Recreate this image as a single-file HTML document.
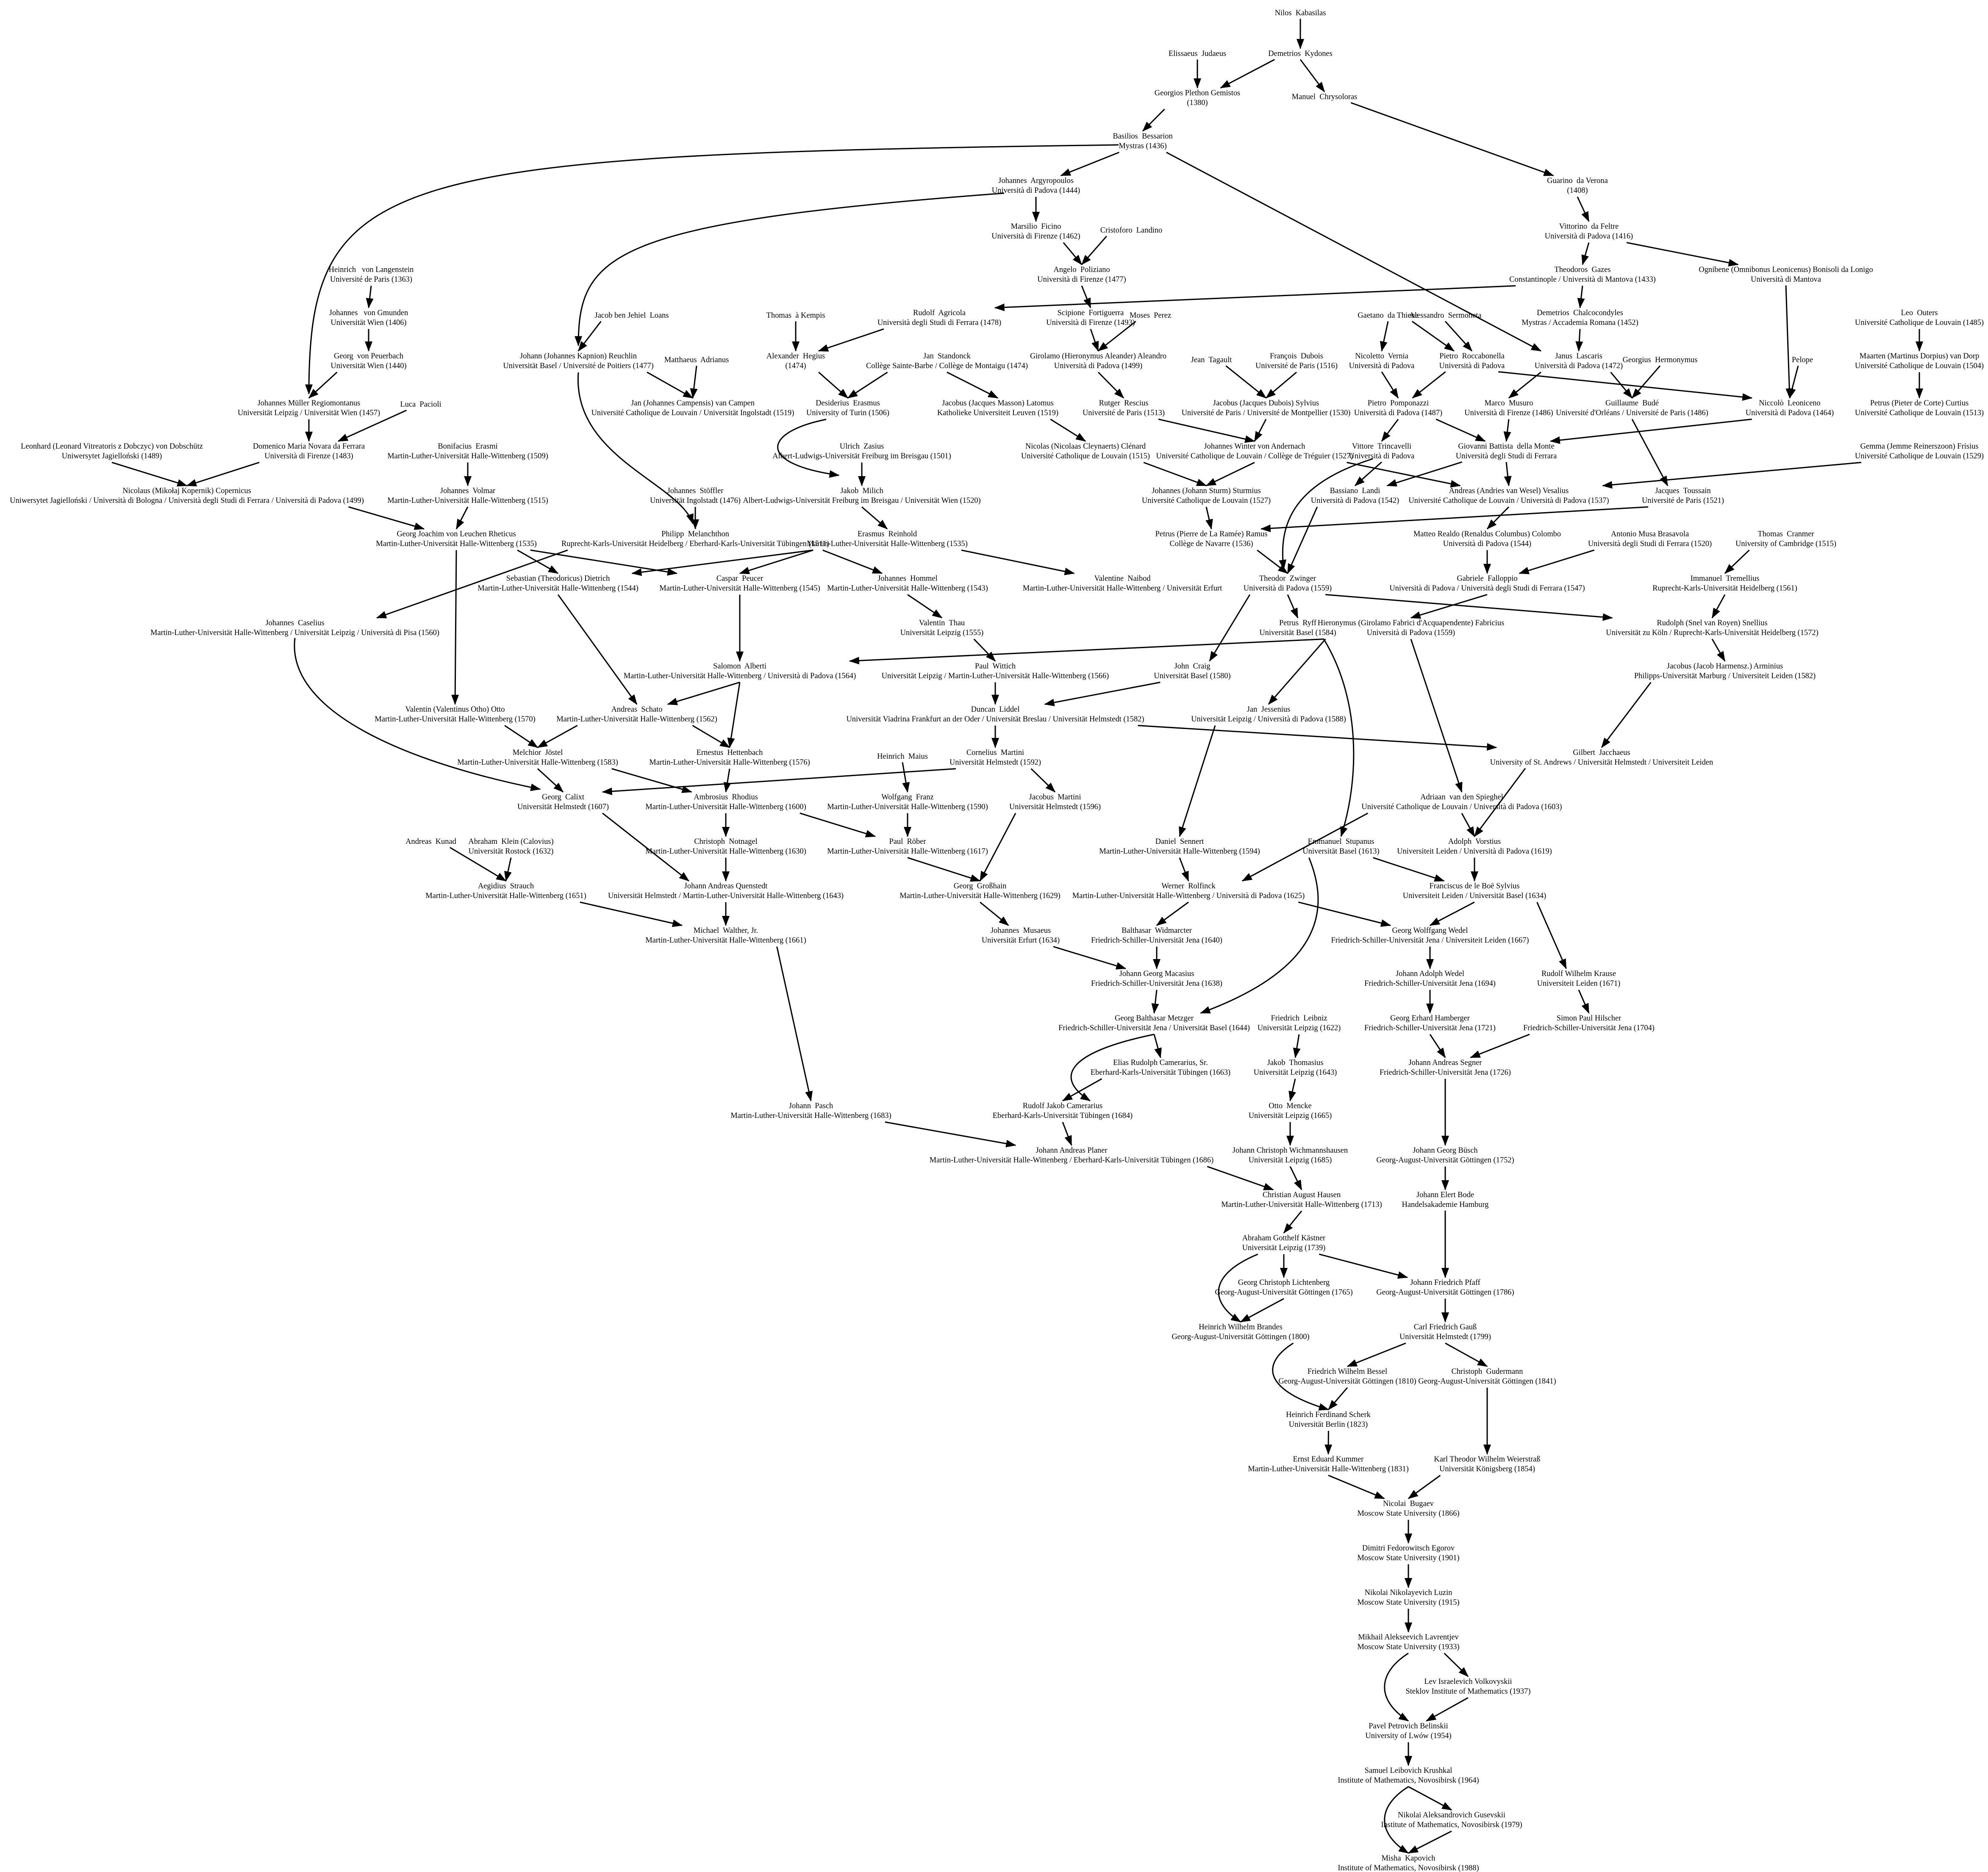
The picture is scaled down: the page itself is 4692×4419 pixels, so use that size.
<!DOCTYPE html>
<html><head><meta charset="utf-8"><style>
html,body{margin:0;padding:0;background:#fff}
svg{display:block}
text{font-family:"Liberation Serif",serif;font-size:6.15px;fill:#000;text-anchor:middle;white-space:pre}
</style></head><body>
<svg id="s" width="4692" height="4419" viewBox="0 0 1564 1473" xmlns="http://www.w3.org/2000/svg" xml:space="preserve">
<defs><marker id="a" markerWidth="8" markerHeight="6" refX="7.5" refY="3" orient="auto" markerUnits="userSpaceOnUse"><path d="M0,0 L8,3 L0,6 z" fill="#000"/></marker></defs>
<g id="E" fill="none" stroke="#000" stroke-width="1"></g>
<g id="T">
<text id="n1" x="1023" y="12">Nilos  Kabasilas</text>
<text id="n2" x="942" y="44">Elissaeus  Judaeus</text>
<text id="n3" x="1023" y="44">Demetrios  Kydones</text>
<text id="n4" x="942" y="75">Georgios Plethon Gemistos<tspan x="942" dy="7.7">(1380)</tspan></text>
<text id="n5" x="1042" y="78">Manuel  Chrysoloras</text>
<text id="n6" x="899" y="109">Basilios  Bessarion<tspan x="899" dy="7.7">Mystras (1436)</tspan></text>
<text id="n7" x="815" y="144">Johannes  Argyropoulos<tspan x="815" dy="7.7">Università di Padova (1444)</tspan></text>
<text id="n8" x="1241" y="144">Guarino  da Verona<tspan x="1241" dy="7.7">(1408)</tspan></text>
<text id="n9" x="815" y="180">Marsilio  Ficino<tspan x="815" dy="7.7">Università di Firenze (1462)</tspan></text>
<text id="n10" x="890" y="183">Cristoforo  Landino</text>
<text id="n11" x="1250" y="180">Vittorino  da Feltre<tspan x="1250" dy="7.7">Università di Padova (1416)</tspan></text>
<text id="n12" x="851" y="214">Angelo  Poliziano<tspan x="851" dy="7.7">Università di Firenze (1477)</tspan></text>
<text id="n13" x="292" y="214">Heinrich   von Langenstein<tspan x="292" dy="7.7">Université de Paris (1363)</tspan></text>
<text id="n14" x="1245" y="214">Theodoros  Gazes<tspan x="1245" dy="7.7">Constantinople / Università di Mantova (1433)</tspan></text>
<text id="n15" x="1405" y="214">Ognibene (Omnibonus Leonicenus) Bonisoli da Lonigo<tspan x="1405" dy="7.7">Università di Mantova</tspan></text>
<text id="n16" x="290" y="248">Johannes   von Gmunden<tspan x="290" dy="7.7">Universität Wien (1406)</tspan></text>
<text id="n17" x="497" y="250">Jacob ben Jehiel  Loans</text>
<text id="n18" x="626" y="250">Thomas  à Kempis</text>
<text id="n19" x="739" y="248">Rudolf  Agricola<tspan x="739" dy="7.7">Università degli Studi di Ferrara (1478)</tspan></text>
<text id="n20" x="858" y="248">Scipione  Fortiguerra<tspan x="858" dy="7.7">Università di Firenze (1493)</tspan></text>
<text id="n21" x="905" y="250">Moses  Perez</text>
<text id="n22" x="1092" y="250">Gaetano  da Thiene</text>
<text id="n23" x="1137" y="250">Alessandro  Sermoneta</text>
<text id="n24" x="1243" y="248">Demetrios  Chalcocondyles<tspan x="1243" dy="7.7">Mystras / Accademia Romana (1452)</tspan></text>
<text id="n25" x="1510" y="248">Leo  Outers<tspan x="1510" dy="7.7">Université Catholique de Louvain (1485)</tspan></text>
<text id="n26" x="290" y="282">Georg  von Peuerbach<tspan x="290" dy="7.7">Universität Wien (1440)</tspan></text>
<text id="n27" x="455" y="282">Johann (Johannes Kapnion) Reuchlin<tspan x="455" dy="7.7">Universität Basel / Université de Poitiers (1477)</tspan></text>
<text id="n28" x="548" y="285">Matthaeus  Adrianus</text>
<text id="n29" x="626" y="282">Alexander  Hegius<tspan x="626" dy="7.7">(1474)</tspan></text>
<text id="n30" x="745" y="282">Jan  Standonck<tspan x="745" dy="7.7">Collège Sainte-Barbe / Collège de Montaigu (1474)</tspan></text>
<text id="n31" x="864" y="282">Girolamo (Hieronymus Aleander) Aleandro<tspan x="864" dy="7.7">Università di Padova (1499)</tspan></text>
<text id="n32" x="953" y="285">Jean  Tagault</text>
<text id="n33" x="1020" y="282">François  Dubois<tspan x="1020" dy="7.7">Université de Paris (1516)</tspan></text>
<text id="n34" x="1087" y="282">Nicoletto  Vernia<tspan x="1087" dy="7.7">Università di Padova</tspan></text>
<text id="n35" x="1158" y="282">Pietro  Roccabonella<tspan x="1158" dy="7.7">Università di Padova</tspan></text>
<text id="n36" x="1242" y="282">Janus  Lascaris<tspan x="1242" dy="7.7">Università di Padova (1472)</tspan></text>
<text id="n37" x="1306" y="285">Georgius  Hermonymus</text>
<text id="n38" x="1418" y="285">Pelope</text>
<text id="n39" x="1510" y="282">Maarten (Martinus Dorpius) van Dorp<tspan x="1510" dy="7.7">Université Catholique de Louvain (1504)</tspan></text>
<text id="n40" x="243" y="319">Johannes Müller Regiomontanus<tspan x="243" dy="7.7">Universität Leipzig / Universität Wien (1457)</tspan></text>
<text id="n41" x="331" y="320">Luca  Pacioli</text>
<text id="n42" x="545" y="319">Jan (Johannes Campensis) van Campen<tspan x="545" dy="7.7">Université Catholique de Louvain / Universität Ingolstadt (1519)</tspan></text>
<text id="n43" x="667" y="319">Desiderius  Erasmus<tspan x="667" dy="7.7">University of Turin (1506)</tspan></text>
<text id="n44" x="785" y="319">Jacobus (Jacques Masson) Latomus<tspan x="785" dy="7.7">Katholieke Universiteit Leuven (1519)</tspan></text>
<text id="n45" x="884" y="319">Rutger  Rescius<tspan x="884" dy="7.7">Université de Paris (1513)</tspan></text>
<text id="n46" x="996" y="319">Jacobus (Jacques Dubois) Sylvius<tspan x="996" dy="7.7">Université de Paris / Université de Montpellier (1530)</tspan></text>
<text id="n47" x="1100" y="319">Pietro  Pomponazzi<tspan x="1100" dy="7.7">Università di Padova (1487)</tspan></text>
<text id="n48" x="1187" y="319">Marco  Musuro<tspan x="1187" dy="7.7">Università di Firenze (1486)</tspan></text>
<text id="n49" x="1284" y="319">Guillaume  Budé<tspan x="1284" dy="7.7">Université d'Orléans / Université de Paris (1486)</tspan></text>
<text id="n50" x="1408" y="319">Niccolò  Leoniceno<tspan x="1408" dy="7.7">Università di Padova (1464)</tspan></text>
<text id="n51" x="1510" y="319">Petrus (Pieter de Corte) Curtius<tspan x="1510" dy="7.7">Université Catholique de Louvain (1513)</tspan></text>
<text id="n52" x="88" y="353">Leonhard (Leonard Vitreatoris z Dobczyc) von Dobschütz<tspan x="88" dy="7.7">Uniwersytet Jagielloński (1489)</tspan></text>
<text id="n53" x="243" y="353">Domenico Maria Novara da Ferrara<tspan x="243" dy="7.7">Università di Firenze (1483)</tspan></text>
<text id="n54" x="368" y="353">Bonifacius  Erasmi<tspan x="368" dy="7.7">Martin-Luther-Universität Halle-Wittenberg (1509)</tspan></text>
<text id="n55" x="854" y="353">Nicolas (Nicolaas Cleynaerts) Clénard<tspan x="854" dy="7.7">Université Catholique de Louvain (1515)</tspan></text>
<text id="n56" x="678" y="353">Ulrich  Zasius<tspan x="678" dy="7.7">Albert-Ludwigs-Universität Freiburg im Breisgau (1501)</tspan></text>
<text id="n57" x="987" y="353">Johannes Winter von Andernach<tspan x="987" dy="7.7">Université Catholique de Louvain / Collège de Tréguier (1527)</tspan></text>
<text id="n58" x="1087" y="353">Vittore  Trincavelli<tspan x="1087" dy="7.7">Università di Padova</tspan></text>
<text id="n59" x="1185" y="353">Giovanni Battista  della Monte<tspan x="1185" dy="7.7">Università degli Studi di Ferrara</tspan></text>
<text id="n60" x="1510" y="353">Gemma (Jemme Reinerszoon) Frisius<tspan x="1510" dy="7.7">Université Catholique de Louvain (1529)</tspan></text>
<text id="n61" x="147" y="388">Nicolaus (Mikołaj Kopernik) Copernicus<tspan x="147" dy="7.7">Uniwersytet Jagielloński / Università di Bologna / Università degli Studi di Ferrara / Università di Padova (1499)</tspan></text>
<text id="n62" x="368" y="388">Johannes  Volmar<tspan x="368" dy="7.7">Martin-Luther-Universität Halle-Wittenberg (1515)</tspan></text>
<text id="n63" x="547" y="388">Johannes  Stöffler<tspan x="547" dy="7.7">Universität Ingolstadt (1476)</tspan></text>
<text id="n64" x="678" y="388">Jakob  Milich<tspan x="678" dy="7.7">Albert-Ludwigs-Universität Freiburg im Breisgau / Universität Wien (1520)</tspan></text>
<text id="n65" x="949" y="388">Johannes (Johann Sturm) Sturmius<tspan x="949" dy="7.7">Université Catholique de Louvain (1527)</tspan></text>
<text id="n66" x="1066" y="388">Bassiano  Landi<tspan x="1066" dy="7.7">Università di Padova (1542)</tspan></text>
<text id="n67" x="1187" y="388">Andreas (Andries van Wesel) Vesalius<tspan x="1187" dy="7.7">Université Catholique de Louvain / Università di Padova (1537)</tspan></text>
<text id="n68" x="1324" y="388">Jacques  Toussain<tspan x="1324" dy="7.7">Université de Paris (1521)</tspan></text>
<text id="n69" x="359" y="422">Georg Joachim von Leuchen Rheticus<tspan x="359" dy="7.7">Martin-Luther-Universität Halle-Wittenberg (1535)</tspan></text>
<text id="n70" x="547" y="422">Philipp  Melanchthon<tspan x="547" dy="7.7">Ruprecht-Karls-Universität Heidelberg / Eberhard-Karls-Universität Tübingen (1511)</tspan></text>
<text id="n71" x="698" y="422">Erasmus  Reinhold<tspan x="698" dy="7.7">Martin-Luther-Universität Halle-Wittenberg (1535)</tspan></text>
<text id="n72" x="953" y="422">Petrus (Pierre de La Ramée) Ramus<tspan x="953" dy="7.7">Collège de Navarre (1536)</tspan></text>
<text id="n73" x="1170" y="422">Matteo Realdo (Renaldus Columbus) Colombo<tspan x="1170" dy="7.7">Università di Padova (1544)</tspan></text>
<text id="n74" x="1298" y="422">Antonio Musa Brasavola<tspan x="1298" dy="7.7">Università degli Studi di Ferrara (1520)</tspan></text>
<text id="n75" x="1405" y="422">Thomas  Cranmer<tspan x="1405" dy="7.7">University of Cambridge (1515)</tspan></text>
<text id="n76" x="439" y="457">Sebastian (Theodoricus) Dietrich<tspan x="439" dy="7.7">Martin-Luther-Universität Halle-Wittenberg (1544)</tspan></text>
<text id="n77" x="582" y="457">Caspar  Peucer<tspan x="582" dy="7.7">Martin-Luther-Universität Halle-Wittenberg (1545)</tspan></text>
<text id="n78" x="714" y="457">Johannes  Hommel<tspan x="714" dy="7.7">Martin-Luther-Universität Halle-Wittenberg (1543)</tspan></text>
<text id="n79" x="883" y="457">Valentine  Naibod<tspan x="883" dy="7.7">Martin-Luther-Universität Halle-Wittenberg / Universität Erfurt</tspan></text>
<text id="n80" x="1013" y="457">Theodor  Zwinger<tspan x="1013" dy="7.7">Università di Padova (1559)</tspan></text>
<text id="n81" x="1170" y="457">Gabriele  Falloppio<tspan x="1170" dy="7.7">Università di Padova / Università degli Studi di Ferrara (1547)</tspan></text>
<text id="n82" x="1357" y="457">Immanuel  Tremellius<tspan x="1357" dy="7.7">Ruprecht-Karls-Universität Heidelberg (1561)</tspan></text>
<text id="n83" x="232" y="492">Johannes  Caselius<tspan x="232" dy="7.7">Martin-Luther-Universität Halle-Wittenberg / Universität Leipzig / Università di Pisa (1560)</tspan></text>
<text id="n84" x="741" y="492">Valentin  Thau<tspan x="741" dy="7.7">Universität Leipzig (1555)</tspan></text>
<text id="n85" x="1021" y="492">Petrus  Ryff<tspan x="1021" dy="7.7">Universität Basel (1584)</tspan></text>
<text id="n86" x="1110" y="492">Hieronymus (Girolamo Fabrici d'Acquapendente) Fabricius<tspan x="1110" dy="7.7">Università di Padova (1559)</tspan></text>
<text id="n87" x="1347" y="492">Rudolph (Snel van Royen) Snellius<tspan x="1347" dy="7.7">Universität zu Köln / Ruprecht-Karls-Universität Heidelberg (1572)</tspan></text>
<text id="n88" x="582" y="526">Salomon  Alberti<tspan x="582" dy="7.7">Martin-Luther-Universität Halle-Wittenberg / Università di Padova (1564)</tspan></text>
<text id="n89" x="783" y="526">Paul  Wittich<tspan x="783" dy="7.7">Universität Leipzig / Martin-Luther-Universität Halle-Wittenberg (1566)</tspan></text>
<text id="n90" x="938" y="526">John  Craig<tspan x="938" dy="7.7">Universität Basel (1580)</tspan></text>
<text id="n91" x="1357" y="526">Jacobus (Jacob Harmensz.) Arminius<tspan x="1357" dy="7.7">Philipps-Universität Marburg / Universiteit Leiden (1582)</tspan></text>
<text id="n92" x="358" y="560">Valentin (Valentinus Otho) Otto<tspan x="358" dy="7.7">Martin-Luther-Universität Halle-Wittenberg (1570)</tspan></text>
<text id="n93" x="501" y="560">Andreas  Schato<tspan x="501" dy="7.7">Martin-Luther-Universität Halle-Wittenberg (1562)</tspan></text>
<text id="n94" x="783" y="560">Duncan  Liddel<tspan x="783" dy="7.7">Universität Viadrina Frankfurt an der Oder / Universität Breslau / Universität Helmstedt (1582)</tspan></text>
<text id="n95" x="998" y="560">Jan  Jessenius<tspan x="998" dy="7.7">Universität Leipzig / Università di Padova (1588)</tspan></text>
<text id="n96" x="423" y="594">Melchior  Jöstel<tspan x="423" dy="7.7">Martin-Luther-Universität Halle-Wittenberg (1583)</tspan></text>
<text id="n97" x="574" y="594">Ernestus  Hettenbach<tspan x="574" dy="7.7">Martin-Luther-Universität Halle-Wittenberg (1576)</tspan></text>
<text id="n98" x="783" y="594">Cornelius  Martini<tspan x="783" dy="7.7">Universität Helmstedt (1592)</tspan></text>
<text id="n99" x="710" y="597">Heinrich  Maius</text>
<text id="n100" x="1260" y="594">Gilbert  Jacchaeus<tspan x="1260" dy="7.7">University of St. Andrews / Universität Helmstedt / Universiteit Leiden</tspan></text>
<text id="n101" x="443" y="629">Georg  Calixt<tspan x="443" dy="7.7">Universität Helmstedt (1607)</tspan></text>
<text id="n102" x="571" y="629">Ambrosius  Rhodius<tspan x="571" dy="7.7">Martin-Luther-Universität Halle-Wittenberg (1600)</tspan></text>
<text id="n103" x="714" y="629">Wolfgang  Franz<tspan x="714" dy="7.7">Martin-Luther-Universität Halle-Wittenberg (1590)</tspan></text>
<text id="n104" x="830" y="629">Jacobus  Martini<tspan x="830" dy="7.7">Universität Helmstedt (1596)</tspan></text>
<text id="n105" x="1150" y="629">Adriaan  van den Spieghel<tspan x="1150" dy="7.7">Université Catholique de Louvain / Università di Padova (1603)</tspan></text>
<text id="n106" x="339" y="664">Andreas  Kunad</text>
<text id="n107" x="402" y="664">Abraham  Klein (Calovius)<tspan x="402" dy="7.7">Universität Rostock (1632)</tspan></text>
<text id="n108" x="571" y="664">Christoph  Notnagel<tspan x="571" dy="7.7">Martin-Luther-Universität Halle-Wittenberg (1630)</tspan></text>
<text id="n109" x="714" y="664">Paul  Röber<tspan x="714" dy="7.7">Martin-Luther-Universität Halle-Wittenberg (1617)</tspan></text>
<text id="n110" x="928" y="664">Daniel  Sennert<tspan x="928" dy="7.7">Martin-Luther-Universität Halle-Wittenberg (1594)</tspan></text>
<text id="n111" x="1055" y="664">Emmanuel  Stupanus<tspan x="1055" dy="7.7">Universität Basel (1613)</tspan></text>
<text id="n112" x="1160" y="664">Adolph  Vorstius<tspan x="1160" dy="7.7">Universiteit Leiden / Università di Padova (1619)</tspan></text>
<text id="n113" x="398" y="699">Aegidius  Strauch<tspan x="398" dy="7.7">Martin-Luther-Universität Halle-Wittenberg (1651)</tspan></text>
<text id="n114" x="571" y="699">Johann Andreas Quenstedt<tspan x="571" dy="7.7">Universität Helmstedt / Martin-Luther-Universität Halle-Wittenberg (1643)</tspan></text>
<text id="n115" x="771" y="699">Georg  Großhain<tspan x="771" dy="7.7">Martin-Luther-Universität Halle-Wittenberg (1629)</tspan></text>
<text id="n116" x="935" y="699">Werner  Rolfinck<tspan x="935" dy="7.7">Martin-Luther-Universität Halle-Wittenberg / Università di Padova (1625)</tspan></text>
<text id="n117" x="1160" y="699">Franciscus de le Boë Sylvius<tspan x="1160" dy="7.7">Universiteit Leiden / Universität Basel (1634)</tspan></text>
<text id="n118" x="571" y="734">Michael  Walther, Jr.<tspan x="571" dy="7.7">Martin-Luther-Universität Halle-Wittenberg (1661)</tspan></text>
<text id="n119" x="803" y="734">Johannes  Musaeus<tspan x="803" dy="7.7">Universität Erfurt (1634)</tspan></text>
<text id="n120" x="910" y="734">Balthasar  Widmarcter<tspan x="910" dy="7.7">Friedrich-Schiller-Universität Jena (1640)</tspan></text>
<text id="n121" x="1125" y="734">Georg Wolffgang Wedel<tspan x="1125" dy="7.7">Friedrich-Schiller-Universität Jena / Universiteit Leiden (1667)</tspan></text>
<text id="n122" x="910" y="768">Johann Georg Macasius<tspan x="910" dy="7.7">Friedrich-Schiller-Universität Jena (1638)</tspan></text>
<text id="n123" x="1125" y="768">Johann Adolph Wedel<tspan x="1125" dy="7.7">Friedrich-Schiller-Universität Jena (1694)</tspan></text>
<text id="n124" x="1242" y="768">Rudolf Wilhelm Krause<tspan x="1242" dy="7.7">Universiteit Leiden (1671)</tspan></text>
<text id="n125" x="908" y="803">Georg Balthasar Metzger<tspan x="908" dy="7.7">Friedrich-Schiller-Universität Jena / Universität Basel (1644)</tspan></text>
<text id="n126" x="1022" y="803">Friedrich  Leibniz<tspan x="1022" dy="7.7">Universität Leipzig (1622)</tspan></text>
<text id="n127" x="1125" y="803">Georg Erhard Hamberger<tspan x="1125" dy="7.7">Friedrich-Schiller-Universität Jena (1721)</tspan></text>
<text id="n128" x="1250" y="803">Simon Paul Hilscher<tspan x="1250" dy="7.7">Friedrich-Schiller-Universität Jena (1704)</tspan></text>
<text id="n129" x="913" y="838">Elias Rudolph Camerarius, Sr.<tspan x="913" dy="7.7">Eberhard-Karls-Universität Tübingen (1663)</tspan></text>
<text id="n130" x="1019" y="838">Jakob  Thomasius<tspan x="1019" dy="7.7">Universität Leipzig (1643)</tspan></text>
<text id="n131" x="1137" y="838">Johann Andreas Segner<tspan x="1137" dy="7.7">Friedrich-Schiller-Universität Jena (1726)</tspan></text>
<text id="n132" x="1015" y="872">Otto  Mencke<tspan x="1015" dy="7.7">Universität Leipzig (1665)</tspan></text>
<text id="n133" x="638" y="872">Johann  Pasch<tspan x="638" dy="7.7">Martin-Luther-Universität Halle-Wittenberg (1683)</tspan></text>
<text id="n134" x="836" y="872">Rudolf Jakob Camerarius<tspan x="836" dy="7.7">Eberhard-Karls-Universität Tübingen (1684)</tspan></text>
<text id="n135" x="843" y="907">Johann Andreas Planer<tspan x="843" dy="7.7">Martin-Luther-Universität Halle-Wittenberg / Eberhard-Karls-Universität Tübingen (1686)</tspan></text>
<text id="n136" x="1015" y="907">Johann Christoph Wichmannshausen<tspan x="1015" dy="7.7">Universität Leipzig (1685)</tspan></text>
<text id="n137" x="1137" y="907">Johann Georg Büsch<tspan x="1137" dy="7.7">Georg-August-Universität Göttingen (1752)</tspan></text>
<text id="n138" x="1024" y="942">Christian August Hausen<tspan x="1024" dy="7.7">Martin-Luther-Universität Halle-Wittenberg (1713)</tspan></text>
<text id="n139" x="1137" y="942">Johann Elert Bode<tspan x="1137" dy="7.7">Handelsakademie Hamburg</tspan></text>
<text id="n140" x="1010" y="976">Abraham Gotthelf Kästner<tspan x="1010" dy="7.7">Universität Leipzig (1739)</tspan></text>
<text id="n141" x="1010" y="1011">Georg Christoph Lichtenberg<tspan x="1010" dy="7.7">Georg-August-Universität Göttingen (1765)</tspan></text>
<text id="n142" x="1137" y="1011">Johann Friedrich Pfaff<tspan x="1137" dy="7.7">Georg-August-Universität Göttingen (1786)</tspan></text>
<text id="n143" x="976" y="1046">Heinrich Wilhelm Brandes<tspan x="976" dy="7.7">Georg-August-Universität Göttingen (1800)</tspan></text>
<text id="n144" x="1137" y="1046">Carl Friedrich Gauß<tspan x="1137" dy="7.7">Universität Helmstedt (1799)</tspan></text>
<text id="n145" x="1060" y="1081">Friedrich Wilhelm Bessel<tspan x="1060" dy="7.7">Georg-August-Universität Göttingen (1810)</tspan></text>
<text id="n146" x="1170" y="1081">Christoph  Gudermann<tspan x="1170" dy="7.7">Georg-August-Universität Göttingen (1841)</tspan></text>
<text id="n147" x="1045" y="1115">Heinrich Ferdinand Scherk<tspan x="1045" dy="7.7">Universität Berlin (1823)</tspan></text>
<text id="n148" x="1045" y="1150">Ernst Eduard Kummer<tspan x="1045" dy="7.7">Martin-Luther-Universität Halle-Wittenberg (1831)</tspan></text>
<text id="n149" x="1170" y="1150">Karl Theodor Wilhelm Weierstraß<tspan x="1170" dy="7.7">Universität Königsberg (1854)</tspan></text>
<text id="n150" x="1108" y="1185">Nicolai  Bugaev<tspan x="1108" dy="7.7">Moscow State University (1866)</tspan></text>
<text id="n151" x="1108" y="1220">Dimitri Fedorowitsch Egorov<tspan x="1108" dy="7.7">Moscow State University (1901)</tspan></text>
<text id="n152" x="1108" y="1255">Nikolai Nikolayevich Luzin<tspan x="1108" dy="7.7">Moscow State University (1915)</tspan></text>
<text id="n153" x="1108" y="1290">Mikhail Alekseevich Lavrentjev<tspan x="1108" dy="7.7">Moscow State University (1933)</tspan></text>
<text id="n154" x="1155" y="1325">Lev Israelevich Volkovyskii<tspan x="1155" dy="7.7">Steklov Institute of Mathematics (1937)</tspan></text>
<text id="n155" x="1108" y="1360">Pavel Petrovich Belinskii<tspan x="1108" dy="7.7">University of Lwów (1954)</tspan></text>
<text id="n156" x="1108" y="1395">Samuel Leibovich Krushkal<tspan x="1108" dy="7.7">Institute of Mathematics, Novosibirsk (1964)</tspan></text>
<text id="n157" x="1142" y="1430">Nikolai Aleksandrovich Gusevskii<tspan x="1142" dy="7.7">Institute of Mathematics, Novosibirsk (1979)</tspan></text>
<text id="n158" x="1108" y="1464">Misha  Kapovich<tspan x="1108" dy="7.7">Institute of Mathematics, Novosibirsk (1988)</tspan></text>
</g>
</svg>
<script>
var E=[[1,3],[2,4],[3,4],[3,5],[4,6],[5,8],[6,7],[6,40,'p','M880,114 C300,122 243,135 243,310'],[6,36],[7,9],[7,27,'p','M790,152 C480,175 455,200 455,272'],[8,11],[9,12],[10,12],[11,14],[11,15],[12,20],[14,19],[14,24],[15,50],[13,16],[16,26],[17,27],[18,29],[19,29],[20,31],[21,31],[22,34],[22,35],[23,35],[24,36],[25,39],[26,40],[27,42],[28,42],[27,70,'p','M455,293 C450,360 535,380 545,412'],[29,43],[30,43],[30,44],[31,45],[32,46],[33,46],[34,47],[35,47],[35,50],[36,49],[37,49],[36,48],[38,50],[39,51],[40,53],[41,53],[44,55],[43,56,'p','M650,330 C600,340 595,365 660,374'],[45,57],[46,57],[47,58],[47,59],[48,59],[50,59],[52,61],[53,61],[54,62],[56,64],[55,65],[57,65],[57,67],[58,66],[58,80,'p','M1080,361 C1020,380 1005,410 1010,448'],[59,66],[59,67],[60,67],[49,68],[61,69],[62,69],[63,70],[64,71],[65,72],[66,80],[67,73],[68,72],[69,76],[69,92],[69,77],[70,78],[70,83],[71,76],[71,77],[71,79],[72,80],[73,81],[74,81],[75,82],[78,84],[80,85],[80,90],[80,87],[81,86],[82,87],[84,89],[85,111,1],[86,95],[86,105],[86,88],[87,91],[88,93],[88,97],[89,94],[90,94],[91,100],[92,96],[93,96],[93,97],[94,98],[94,100],[95,110],[96,101],[96,102],[97,102],[98,101],[98,104],[99,103],[83,101,'p','M232,502 C225,560 320,600 425,621'],[76,93],[77,88],[100,112],[101,114],[102,108],[102,109],[103,109],[104,115],[105,112],[105,116],[106,113],[107,113],[108,114],[109,115],[111,117],[111,125,1],[110,116],[112,117],[113,118],[114,118],[115,119],[116,120],[116,121],[117,121],[117,124],[118,133],[119,122],[120,122],[121,123],[122,125],[123,127],[124,128],[125,129],[125,134,-1],[126,130],[127,131],[128,131],[129,134],[130,132],[131,137],[132,136],[133,135],[134,135],[135,138],[136,138],[137,139],[138,140],[139,142],[140,141],[140,142],[140,143,-1],[141,143],[142,144],[143,147,-1],[144,145],[144,146],[145,147],[146,149],[147,148],[148,150],[149,150],[150,151],[151,152],[152,153],[153,154],[153,155,-1],[154,155],[155,156],[156,157],[156,158,-1],[157,158]];
var g=document.getElementById('E'),NS='http://www.w3.org/2000/svg';
E.forEach(function(e){
 var p=document.createElementNS(NS,'path'),d;
 if(e[2]==='p'){d=e[3];}
 else{
 var a=document.getElementById('n'+e[0]).getBBox(),b=document.getElementById('n'+e[1]).getBBox();
 var x1=a.x+a.width/2,y1=a.y+a.height+1.5,x2=b.x+b.width/2,y2=b.y-0.5;
 var dx=x2-x1;
 if(Math.abs(dx)>a.width/2){x1=x1+Math.sign(dx)*Math.min(a.width/2-5,Math.abs(dx)*0.6);}
 if(Math.abs(x2-x1)>b.width/2){x2=x2-Math.sign(x2-x1)*Math.min(b.width/2-5,Math.abs(x2-x1)*0.3);}
 if(e[2]){var cx=(e[2]<0?Math.min(x1,x2)-25:Math.max(x1,x2)+15);d='M'+x1+','+y1+' C'+cx+','+(y1+(y2-y1)*0.3)+' '+cx+','+(y1+(y2-y1)*0.7)+' '+x2+','+y2;}
 else d='M'+x1+','+y1+' L'+x2+','+y2;
 }
 p.setAttribute('d',d);p.setAttribute('marker-end','url(#a)');g.appendChild(p);
});
</script>
</body></html>
